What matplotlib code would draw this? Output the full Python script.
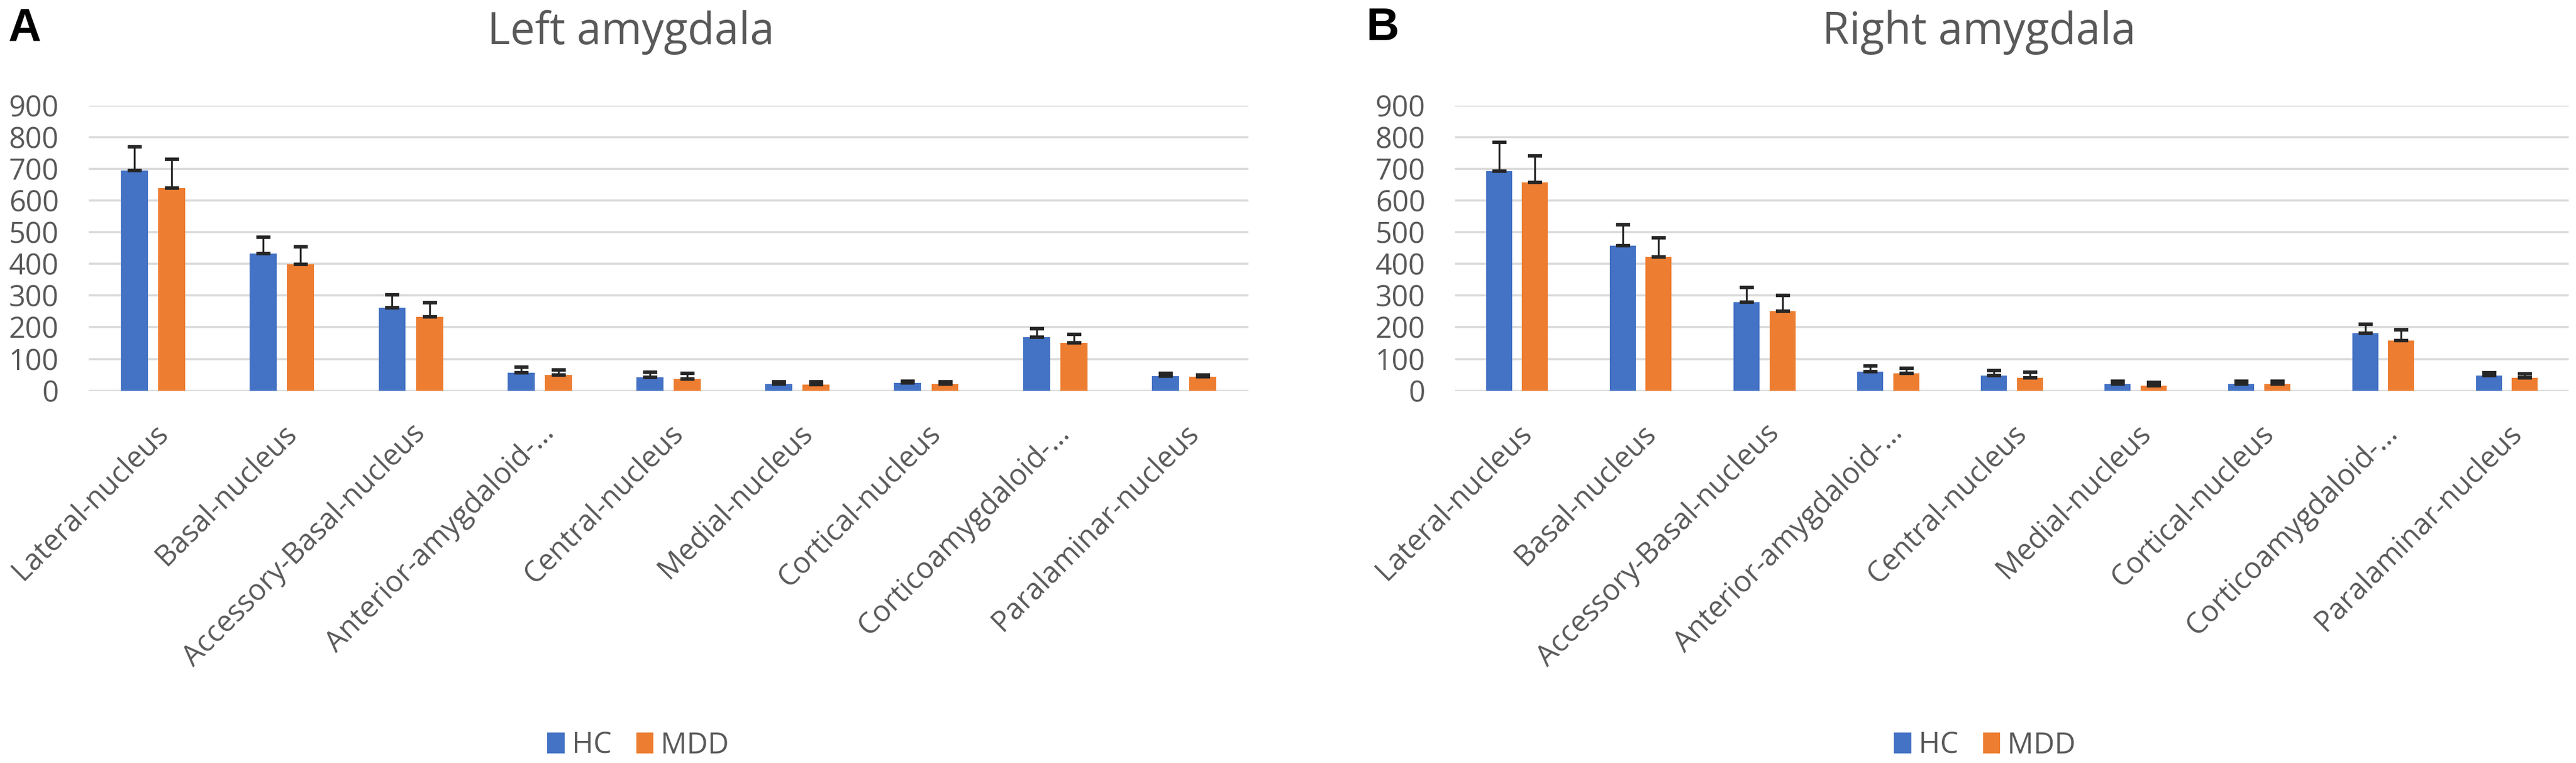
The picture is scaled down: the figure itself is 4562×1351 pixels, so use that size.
import matplotlib
matplotlib.use('Agg')
import matplotlib.pyplot as plt
from matplotlib.patches import Patch
import numpy as np

# nuclei (x categories)
nuclei=['Lateral-nucleus','Basal-nucleus','Accessory-Basal-nucleus','Anterior-amygdaloid-...',
        'Central-nucleus','Medial-nucleus','Cortical-nucleus','Corticoamygdaloid-...','Paralaminar-nucleus']
yticks=[0,100,200,300,400,500,600,700,800,900]

# left amygdala, mean volume and +SD
left_hc=[694,432,262,57,42,20,24,169,45]
left_hc_sd=[76,52,40,17,16,8,6,26,9]
left_mdd=[639,398,233,50,37,19,21,151,43]
left_mdd_sd=[91,56,45,16,17,8,7,27,7]

# right amygdala
right_hc=[692,457,280,60,48,20,20,181,48]
right_hc_sd=[91,66,45,18,16,10,10,28,9]
right_mdd=[657,422,250,54,40,15,21,158,41]
right_mdd_sd=[84,60,50,17,18,11,9,33,11]

BLUE='#4472C4'
ORANGE='#ED7D31'
GRID='#D9D9D9'
TXT='#595959'
FONT='Open Sans'

W,H=4562,1351
fig=plt.figure(figsize=(W/100.,H/100.),dpi=100)
plt.rcParams['font.family']=[FONT,'DejaVu Sans']

def px(x0,x1,ytop,ybot):
    return [x0/W,1-ybot/H,(x1-x0)/W,(ybot-ytop)/H]

def panel(rect,hc,hcsd,mdd,mddsd):
    ax=fig.add_axes(rect)
    x=np.arange(len(nuclei))
    off=0.145
    bw=0.21
    ax.bar(x-off,hc,bw,color=BLUE,zorder=3)
    ax.bar(x+off,mdd,bw,color=ORANGE,zorder=3)
    ekw=dict(fmt='none',ecolor='#262626',elinewidth=2.4,capsize=9,capthick=4.5,zorder=4)
    ax.errorbar(x-off,hc,yerr=[np.zeros(len(hc)),hcsd],**ekw)
    ax.errorbar(x+off,mdd,yerr=[np.zeros(len(mdd)),mddsd],**ekw)
    ax.set_xlim(-0.5,len(nuclei)-0.5)
    ax.set_ylim(0,900)
    ax.set_yticks(yticks)
    ax.set_yticklabels([str(v) for v in yticks],fontsize=37,color=TXT)
    ax.yaxis.grid(True,color=GRID,linewidth=2.6,zorder=0)
    ax.set_axisbelow(True)
    for s in ax.spines.values():
        s.set_visible(False)
    ax.tick_params(axis='y',length=0,pad=38)
    ax.tick_params(axis='x',length=0,pad=36)
    ax.set_xticks(x)
    ax.set_xticklabels(nuclei,rotation=45,ha='right',va='top',rotation_mode='anchor',
                       fontsize=37,color=TXT)
    return ax

axL=panel(px(157,2211,186.7,691.6),left_hc,left_hc_sd,left_mdd,left_mdd_sd)
axR=panel(px(2577,4549,186.7,691.6),right_hc,right_hc_sd,right_mdd,right_mdd_sd)

fig.text(1117/W,1-78/H,'Left amygdala',ha='center',va='baseline',fontsize=56,color=TXT)
fig.text(3505/W,1-78/H,'Right amygdala',ha='center',va='baseline',fontsize=56,color=TXT)
fig.text(15/W,1-71/H,'A',ha='left',va='baseline',fontsize=58,fontweight='bold',
         family=['Liberation Sans','DejaVu Sans'],color='black')
fig.text(2420/W,1-71/H,'B',ha='left',va='baseline',fontsize=58,fontweight='bold',
         family=['Liberation Sans','DejaVu Sans'],color='black')

handles=[Patch(facecolor=BLUE),Patch(facecolor=ORANGE)]
for cx in (1130,3515):
    fig.legend(handles,['HC','MDD'],loc='center',bbox_to_anchor=(cx/W,1-1320/H),ncol=2,
               frameon=False,fontsize=37,labelcolor=TXT,handlelength=0.6,handleheight=0.75,
               handletextpad=0.25,columnspacing=0.85,borderpad=0)

fig.savefig('out.png',dpi=100,facecolor='white')
